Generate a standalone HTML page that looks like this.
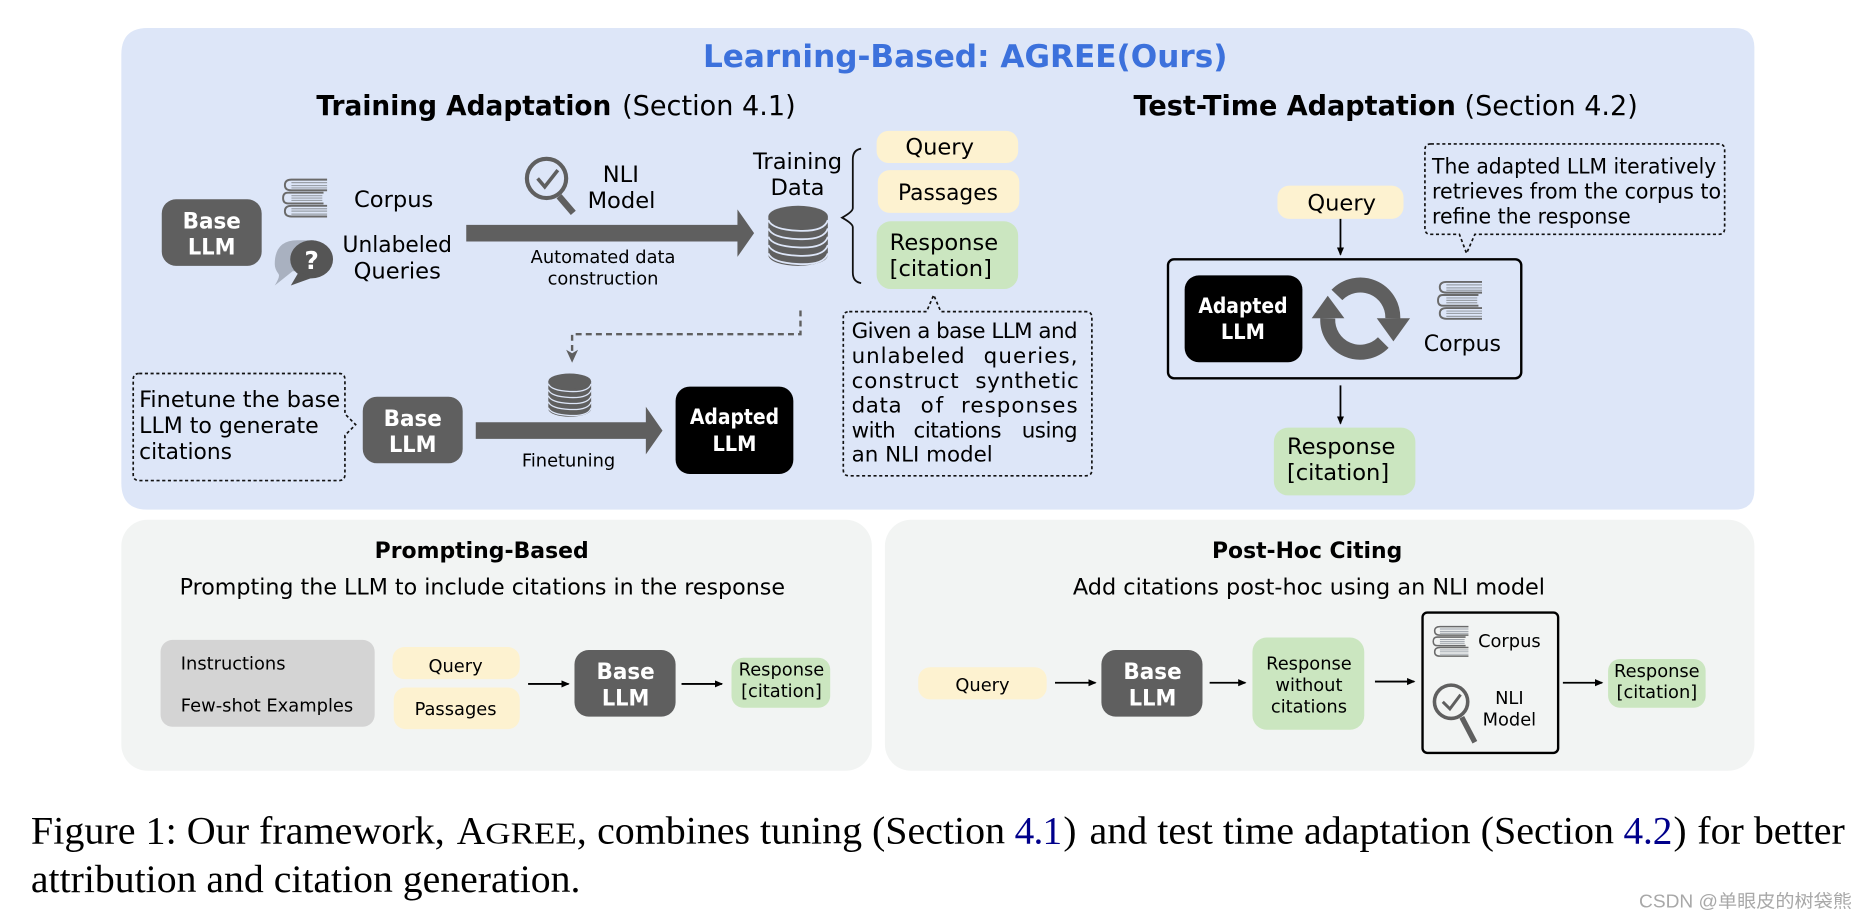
<!DOCTYPE html>
<html>
<head>
<meta charset="utf-8">
<style>
html,body{margin:0;padding:0;background:#fff;width:1865px;height:921px;overflow:hidden}
svg{display:block;filter:blur(.35px)}
text{font-family:"DejaVu Sans",sans-serif;fill:#000}
.b{font-weight:bold}
.w{fill:#fff;font-weight:bold;text-anchor:middle}
.m{text-anchor:middle}
.e{text-anchor:end}
.t19{font-size:19px}
.t18{font-size:18px}
.t15{font-size:15px}
.dash{fill:none;stroke:#111;stroke-width:1.4;stroke-dasharray:2.6 2.2}
.cap{font-family:"Liberation Serif",serif;font-size:33px}
.lnk{fill:#00008b}
</style>
</head>
<body>
<svg width="1865" height="921" viewBox="0 0 1568 774.3" xmlns="http://www.w3.org/2000/svg">
<defs>
<g id="books">
  <g fill="none" stroke="#6a6a6a" stroke-width="1.6">
    <path d="M37 1H7Q1.500 1 1.500 5.500T7 10H37"/>
    <path d="M1 12H31M1 21H31M1 12Q-3 12 -3 16.500T1 21" transform="translate(3,0)"/>
    <path d="M37 23H7Q1.500 23 1.500 27.500T7 32H37"/>
  </g>
  <g stroke="#9aa0a8" stroke-width="1">
    <path d="M7 3.500H37M7 6H37M7 8H37M7 14.500H33M7 16.500H33M7 18.500H33M7 25.500H37M7 27.500H37M7 30H37"/>
  </g>
</g>
<g id="db">
  <ellipse cx="25" cy="41.500" rx="25" ry="9" fill="#5f5f5f"/>
  <rect x="0" y="9" width="50" height="32.500" fill="#5f5f5f"/>
  <ellipse cx="25" cy="9" rx="25" ry="9" fill="#5f5f5f"/>
  <g fill="none" stroke="#dde6f8" stroke-width="1.500">
    <path d="M0 12Q3 20 25 21T50 12"/>
    <path d="M0 19Q3 27 25 28T50 19"/>
    <path d="M0 26Q3 34 25 35T50 26"/>
    <path d="M0 33Q3 41 25 42T50 33"/>
    <path d="M0 40Q3 48 25 49T50 40"/>
  </g>
</g>
<marker id="ah" markerWidth="8" markerHeight="8" refX="6" refY="3" orient="auto" markerUnits="userSpaceOnUse">
  <path d="M0 0L7 3L0 6Z" fill="#000"/>
</marker>
</defs>

<!-- main panel -->
<path d="M124 23.500H1458Q1475 23.500 1475 40V412Q1475 428.500 1458 428.500H124Q102 428.500 102 406V46Q102 23.500 124 23.500Z" fill="#dde6f8"/>
<text x="591" y="56.500" class="b" font-size="26" style="fill:#3c71dc" textLength="441" lengthAdjust="spacingAndGlyphs">Learning-Based: AGREE(Ours)</text>

<text x="266" y="96.500" font-size="23" class="b" textLength="248" lengthAdjust="spacingAndGlyphs">Training Adaptation</text>
<text x="523" y="96.500" font-size="23" textLength="146" lengthAdjust="spacingAndGlyphs">(Section 4.1)</text>
<text x="953" y="96.500" font-size="23" textLength="424" lengthAdjust="spacingAndGlyphs"><tspan class="b">Test-Time Adaptation</tspan> (Section 4.2)</text>

<!-- top-left row -->
<rect x="136" y="167.500" width="84" height="56" rx="12" fill="#5f5f5f"/>
<text x="178" y="192" class="w t19" textLength="49" lengthAdjust="spacingAndGlyphs">Base</text>
<text x="178" y="214" class="w t19" textLength="40" lengthAdjust="spacingAndGlyphs">LLM</text>
<use href="#books" transform="translate(238,150)"/>
<text x="331" y="174" class="m t19">Corpus</text>
<path d="M231 222Q231 202 250 202H264V228H246L231 240Q236 232 234 230Q231 226 231 222Z" fill="#a9b1c0"/>
<ellipse cx="262" cy="218" rx="18" ry="16" fill="#555"/>
<path d="M251 229L244.500 240L264 233Z" fill="#555"/>
<text x="262" y="226" class="w" font-size="21">?</text>
<text x="334" y="212" class="m t19" textLength="92" lengthAdjust="spacingAndGlyphs">Unlabeled</text>
<text x="334" y="234" class="m t19">Queries</text>

<!-- NLI -->
<circle cx="459.500" cy="150" r="16.500" fill="none" stroke="#5f5f5f" stroke-width="3.500"/>
<path d="M470 165L482 179" stroke="#5f5f5f" stroke-width="5.500" fill="none"/>
<path d="M452 150L458 157L469 143" stroke="#5f5f5f" stroke-width="3" fill="none"/>
<text x="522" y="153" class="m t19">NLI</text>
<text x="522.500" y="175" class="m t19">Model</text>
<path d="M392 189H620V176L634 196L620 216V203H392Z" fill="#5f5f5f"/>
<text x="507" y="221" class="m t15">Automated data</text>
<text x="507" y="239" class="m t15">construction</text>

<text x="670.500" y="142" class="m t19">Training</text>
<text x="670.500" y="164" class="m t19">Data</text>
<use href="#db" transform="translate(646,173)"/>
<path d="M724 125Q717 126 717 134V175Q717 178 708 183Q717 188 717 191V229Q717 237 724 238" fill="none" stroke="#111" stroke-width="1.500"/>

<rect x="737" y="110" width="119" height="27" rx="10" fill="#fdf2d0"/>
<text x="790" y="130" class="m t19">Query</text>
<rect x="738" y="143" width="119" height="36" rx="10" fill="#fdf2d0"/>
<text x="797" y="168" class="m t19" textLength="84" lengthAdjust="spacingAndGlyphs">Passages</text>
<rect x="737" y="186" width="119" height="57" rx="12" fill="#cbe6c0"/>
<text x="748" y="210" class="t19">Response</text>
<text x="748" y="232" class="t19">[citation]</text>

<!-- given callout -->
<path class="dash" d="M714 262H779L785 248L791 262H913Q918 262 918 267V395Q918 400 913 400H714Q709 400 709 395V267Q709 262 714 262Z"/>
<g font-size="18">
<text x="716" y="284" textLength="190">Given a base LLM and</text>
<text x="716" y="305" textLength="95">unlabeled</text><text x="827" y="305" textLength="79">queries,</text>
<text x="716" y="326" textLength="90">construct</text><text x="820" y="326" textLength="87">synthetic</text>
<text x="716" y="347" textLength="42">data</text><text x="774" y="347" textLength="19">of</text><text x="808" y="347" textLength="98">responses</text>
<text x="716" y="368" textLength="37">with</text><text x="768" y="368" textLength="74">citations</text><text x="859" y="368" textLength="47">using</text>
<text x="716" y="388">an NLI model</text>
</g>

<!-- dashed connector -->
<path d="M673 261V281H481V299" fill="none" stroke="#5f5f5f" stroke-width="2" stroke-dasharray="5 3.500"/>
<path d="M476 294L481 305L486 294L481 297Z" fill="#5f5f5f"/>

<!-- bottom-left row -->
<path class="dash" d="M117 314H285Q290 314 290 319V348L299 357L290 366V399Q290 404 285 404H117Q112 404 112 399V319Q112 314 117 314Z"/>
<text x="117" y="342" class="t19" textLength="169" lengthAdjust="spacingAndGlyphs">Finetune the base</text>
<text x="117" y="364" class="t19" textLength="151" lengthAdjust="spacingAndGlyphs">LLM to generate</text>
<text x="117" y="386" class="t19" textLength="78" lengthAdjust="spacingAndGlyphs">citations</text>
<rect x="305" y="333.500" width="84" height="56" rx="12" fill="#5f5f5f"/>
<text x="347" y="358" class="w t19" textLength="49" lengthAdjust="spacingAndGlyphs">Base</text>
<text x="347" y="380" class="w t19" textLength="40" lengthAdjust="spacingAndGlyphs">LLM</text>
<use href="#db" transform="translate(461,314) scale(.72)"/>
<path d="M400 355H543V342L557 362L543 382V369H400Z" fill="#5f5f5f"/>
<text x="478" y="392" class="m t15">Finetuning</text>
<rect x="568" y="325" width="99" height="73.500" rx="12" fill="#000"/>
<text x="617.500" y="356.500" class="w t18" textLength="75" lengthAdjust="spacingAndGlyphs">Adapted</text>
<text x="617.500" y="379" class="w t18" textLength="37" lengthAdjust="spacingAndGlyphs">LLM</text>

<!-- test-time -->
<path class="dash" d="M1203 121H1445Q1450 121 1450 126V192Q1450 197 1445 197H1240L1233 213L1227 197H1203Q1198 197 1198 192V126Q1198 121 1203 121Z"/>
<text x="1204" y="146" class="t18" textLength="239" lengthAdjust="spacingAndGlyphs">The adapted LLM iteratively</text>
<text x="1204" y="167" class="t18" textLength="243" lengthAdjust="spacingAndGlyphs">retrieves from the corpus to</text>
<text x="1204" y="188" class="t18" textLength="167" lengthAdjust="spacingAndGlyphs">refine the response</text>
<rect x="1074" y="156" width="106" height="28" rx="10" fill="#fdf2d0"/>
<text x="1128" y="177" class="m t19">Query</text>
<path d="M1127 184V214" stroke="#000" stroke-width="1.500" marker-end="url(#ah)"/>
<rect x="982" y="218" width="297" height="100" rx="5" fill="none" stroke="#000" stroke-width="2"/>
<rect x="996" y="231.500" width="99" height="73" rx="12" fill="#000"/>
<text x="1045" y="263" class="w t18" textLength="75" lengthAdjust="spacingAndGlyphs">Adapted</text>
<text x="1045" y="285" class="w t18" textLength="37" lengthAdjust="spacingAndGlyphs">LLM</text>
<g fill="none" stroke="#5f5f5f" stroke-width="12.600">
  <path d="M1124 248A27.300 27.300 0 0 1 1171 267.600"/>
  <path d="M1163 288A27.300 27.300 0 0 1 1116.300 267.600"/>
</g>
<path d="M1157.500 267.600H1185.500L1171.500 287Z M1102.800 267.600H1130.300L1116.300 248.600Z" fill="#5f5f5f"/>
<use href="#books" transform="translate(1209,236)"/>
<text x="1229.500" y="295" class="m t19" textLength="65" lengthAdjust="spacingAndGlyphs">Corpus</text>
<path d="M1127 324V356" stroke="#000" stroke-width="1.500" marker-end="url(#ah)"/>
<rect x="1071" y="359.500" width="119" height="57" rx="12" fill="#cbe6c0"/>
<text x="1082" y="381.500" class="t19">Response</text>
<text x="1082" y="403.500" class="t19">[citation]</text>

<!-- prompting panel -->
<rect x="102" y="437" width="631" height="211" rx="22" fill="#f2f4f3"/>
<text x="405" y="469" class="m b" font-size="18.500" textLength="180" lengthAdjust="spacingAndGlyphs">Prompting-Based</text>
<text x="151" y="500" font-size="18.500" textLength="509" lengthAdjust="spacingAndGlyphs">Prompting the LLM to include citations in the response</text>
<rect x="135" y="538" width="180" height="73" rx="10" fill="#d4d4d4"/>
<text x="152" y="563" class="t15">Instructions</text>
<text x="152" y="598" class="t15" textLength="145" lengthAdjust="spacingAndGlyphs">Few-shot Examples</text>
<rect x="330" y="544" width="107" height="27" rx="10" fill="#fdf2d0"/>
<text x="383" y="565" class="m t15">Query</text>
<rect x="331" y="578" width="106" height="35" rx="10" fill="#fdf2d0"/>
<text x="383" y="601" class="m t15">Passages</text>
<path d="M444 575H478" stroke="#000" stroke-width="1.500" marker-end="url(#ah)"/>
<rect x="483" y="546.500" width="85" height="56" rx="12" fill="#5f5f5f"/>
<text x="526" y="571" class="w t19" textLength="49" lengthAdjust="spacingAndGlyphs">Base</text>
<text x="526" y="593" class="w t19" textLength="40" lengthAdjust="spacingAndGlyphs">LLM</text>
<path d="M573 575H607" stroke="#000" stroke-width="1.500" marker-end="url(#ah)"/>
<rect x="615" y="553" width="83" height="42" rx="10" fill="#cbe6c0"/>
<text x="657" y="568" class="m t15">Response</text>
<text x="657" y="586" class="m t15">[citation]</text>

<!-- post-hoc panel -->
<rect x="744" y="437" width="731" height="211" rx="22" fill="#f2f4f3"/>
<text x="1099" y="469" class="m b" font-size="18.500" textLength="160" lengthAdjust="spacingAndGlyphs">Post-Hoc Citing</text>
<text x="902" y="500" font-size="18.500" textLength="397" lengthAdjust="spacingAndGlyphs">Add citations post-hoc using an NLI model</text>
<rect x="772" y="561" width="108" height="27" rx="10" fill="#fdf2d0"/>
<text x="826" y="581" class="m t15">Query</text>
<path d="M887 574H921" stroke="#000" stroke-width="1.500" marker-end="url(#ah)"/>
<rect x="926" y="546.500" width="85" height="56" rx="12" fill="#5f5f5f"/>
<text x="969" y="571" class="w t19" textLength="49" lengthAdjust="spacingAndGlyphs">Base</text>
<text x="969" y="593" class="w t19" textLength="40" lengthAdjust="spacingAndGlyphs">LLM</text>
<path d="M1017 574H1047" stroke="#000" stroke-width="1.500" marker-end="url(#ah)"/>
<rect x="1053" y="536" width="94" height="77.500" rx="12" fill="#cbe6c0"/>
<text x="1100.500" y="563" class="m t15">Response</text>
<text x="1100.500" y="581" class="m t15">without</text>
<text x="1100.500" y="599" class="m t15">citations</text>
<path d="M1156 573H1189" stroke="#000" stroke-width="1.500" marker-end="url(#ah)"/>
<rect x="1196" y="515" width="114" height="118" rx="4" fill="none" stroke="#000" stroke-width="2"/>
<use href="#books" transform="translate(1205,526) scale(.8)"/>
<text x="1269" y="544" class="m t15">Corpus</text>
<circle cx="1220" cy="590" r="14" fill="none" stroke="#5f5f5f" stroke-width="3"/>
<path d="M1229 603L1240 624" stroke="#5f5f5f" stroke-width="4.500" fill="none"/>
<path d="M1213 590L1219 596L1228 584" stroke="#5f5f5f" stroke-width="2.500" fill="none"/>
<text x="1269" y="592" class="m t15">NLI</text>
<text x="1269" y="610" class="m t15">Model</text>
<path d="M1314 574H1347" stroke="#000" stroke-width="1.500" marker-end="url(#ah)"/>
<rect x="1352" y="554" width="82" height="41" rx="10" fill="#cbe6c0"/>
<text x="1393" y="569" class="m t15">Response</text>
<text x="1393" y="587" class="m t15">[citation]</text>

<!-- caption -->
<text x="26" y="709" class="cap" textLength="348" lengthAdjust="spacingAndGlyphs">Figure 1: Our framework,</text>
<text x="384" y="709" class="cap">A</text>
<text x="408" y="709" class="cap" style="font-size:25.500px" textLength="77" lengthAdjust="spacingAndGlyphs">GREE</text>
<text x="485" y="709" class="cap">,</text>
<text x="502" y="709" class="cap" textLength="343" lengthAdjust="spacingAndGlyphs">combines tuning (Section</text>
<text x="853" y="709" class="cap lnk" style="fill:#00008b" textLength="40">4.1</text>
<text x="894" y="709" class="cap">)</text>
<text x="916" y="709" class="cap" textLength="441" lengthAdjust="spacingAndGlyphs">and test time adaptation (Section</text>
<text x="1365" y="709" class="cap lnk" style="fill:#00008b" textLength="41">4.2</text>
<text x="1407" y="709" class="cap">)</text>
<text x="1427" y="709" class="cap" textLength="124" lengthAdjust="spacingAndGlyphs">for better</text>
<text x="26" y="750" class="cap" textLength="462" lengthAdjust="spacingAndGlyphs">attribution and citation generation.</text>
<text x="1378" y="763" font-size="15.500" style="font-family:'Liberation Sans','Noto Sans CJK SC',sans-serif;fill:#a8a8a8" textLength="179" lengthAdjust="spacingAndGlyphs">CSDN @单眼皮的树袋熊</text>
</svg>
</body>
</html>
